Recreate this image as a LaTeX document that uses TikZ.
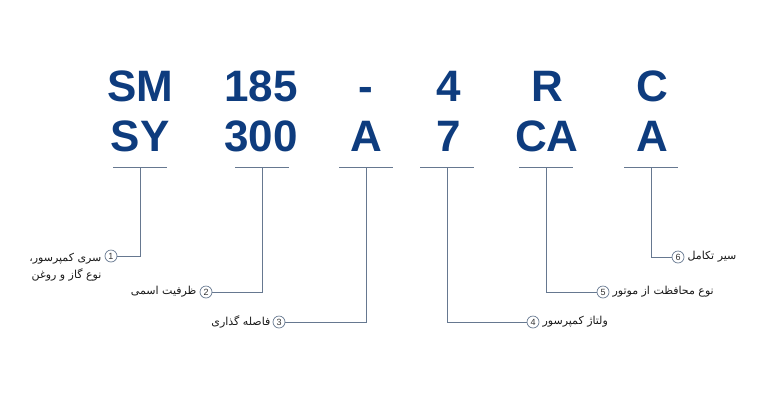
\documentclass[tikz,border=0pt]{standalone}
\usepackage{fontspec}
\usepackage{xcolor}
\usepackage{tikz}
\setmainfont{Liberation Sans}
\newfontfamily\farsi[Script=Arabic]{DejaVu Sans}
\TeXXeTstate=1
\definecolor{codeblue}{HTML}{0E3C7E}
\definecolor{leadgray}{HTML}{667890}

\begin{document}
\begin{tikzpicture}[x=1pt,y=1pt,yscale=-1,xscale=1,
  code/.style={text=codeblue,font=\fontsize{44}{44}\selectfont\bfseries,anchor=base,inner sep=0pt},
  lead/.style={draw=leadgray,line width=0.9pt},
  num/.style={circle,draw=leadgray,line width=0.7pt,inner sep=0pt,minimum size=12pt,font=\fontsize{9}{9}\selectfont,text=black!80},
  note/.style={font=\farsi\fontsize{11}{17}\selectfont,text=black!90,inner sep=0pt}]
\useasboundingbox (0,0) rectangle (776,400);
%کد مدل
\node[code] (sm) at (140,101) {SM};
\node[code] (sy) at (140,151) {SY};
\node[code] (cap1) at (261,101) {185};
\node[code] (cap2) at (261,151) {300};
\node[code] (dash) at (366,101) {-};
\node[code] (pitch) at (366,151) {A};
\node[code] (volt1) at (449,101) {4};
\node[code] (volt2) at (449,151) {7};
\node[code] (prot1) at (547,101) {R};
\node[code] (prot2) at (547,151) {CA};
\node[code] (ev1) at (652,101) {C};
\node[code] (ev2) at (652,151) {A};
%خط زیر هر ستون
\coordinate (b1) at (140,167);
\coordinate (b2) at (262,167);
\coordinate (b3) at (366,167);
\coordinate (b4) at (447,167);
\coordinate (b5) at (546,167);
\coordinate (b6) at (651,167);
\draw[lead] ([xshift=-27pt]b1) -- ([xshift=27pt]b1);
\draw[lead] ([xshift=-27pt]b2) -- ([xshift=27pt]b2);
\draw[lead] ([xshift=-27pt]b3) -- ([xshift=27pt]b3);
\draw[lead] ([xshift=-27pt]b4) -- ([xshift=27pt]b4);
\draw[lead] ([xshift=-27pt]b5) -- ([xshift=27pt]b5);
\draw[lead] ([xshift=-27pt]b6) -- ([xshift=27pt]b6);
%شماره ها
\node[num] (c1) at (111,256) {1};
\node[num] (c2) at (206,292) {2};
\node[num] (c3) at (279,322) {3};
\node[num] (c4) at (533,322) {4};
\node[num] (c5) at (603,292) {5};
\node[num] (c6) at (678,257) {6};
\draw[lead] (b1) |- (c1);
\draw[lead] (b2) |- (c2);
\draw[lead] (b3) |- (c3);
\draw[lead] (b4) |- (c4);
\draw[lead] (b5) |- (c5);
\draw[lead] (b6) |- (c6);
%Text
\node[note,anchor=north east,align=right] (t1) at ([xshift=-3pt,yshift=-3pt]c1.west) {\beginR سری کمپرسور،\endR\\\beginR نوع گاز و روغن\endR};
\node[note,anchor=east] (t2) at ([xshift=-3pt]c2.west) {\beginR ظرفیت اسمی\endR};
\node[note,anchor=east] (t3) at ([xshift=-2pt]c3.west) {\beginR فاصله گذاری\endR};
\node[note,anchor=west] (t4) at ([xshift=3pt]c4.east) {\beginR ولتاژ کمپرسور\endR};
\node[note,anchor=west] (t5) at ([xshift=3pt]c5.east) {\beginR نوع محافظت از موتور\endR};
\node[note,anchor=west] (t6) at ([xshift=3pt]c6.east) {\beginR سیر تکامل\endR};
\end{tikzpicture}
\end{document}
